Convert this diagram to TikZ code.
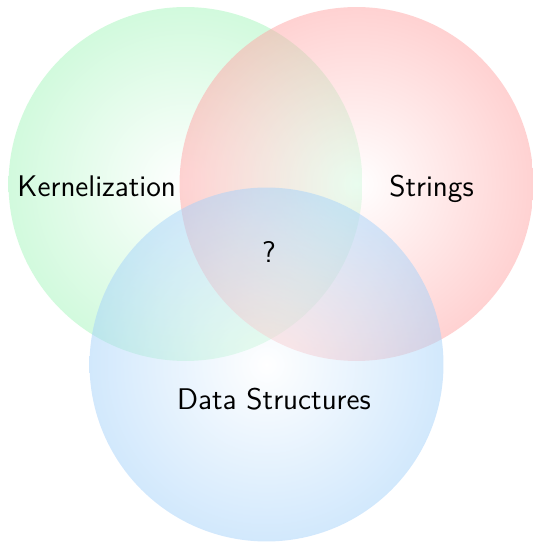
\documentclass[tikz,border=0pt]{standalone}
\definecolor{vgreen}{RGB}{165,245,188}
\definecolor{vred}{RGB}{255,165,165}
\definecolor{vblue}{RGB}{165,210,250}
\begin{document}
\begin{tikzpicture}[x=0.016949cm, y=-0.016949cm,
  setdisc/.style={fill opacity=0.5, inner color=white, outer color=#1},
  settext/.style={font=\sffamily\fontsize{14.4}{17}\selectfont, anchor=base, inner sep=0pt}]
  \useasboundingbox (0,0) rectangle (532,542);
  % the three sets, each a softly shaded disc
  \shade[setdisc=vgreen] (185.5,184) circle[radius=3cm];
  \shade[setdisc=vred] (356.5,184) circle[radius=3cm];
  \shade[setdisc=vblue] (266.5,364.5) circle[radius=3cm];
  % set names and the common part
  \node[settext] (kern) at (96.7,197) {Kernelization};
  \node[settext] (str) at (431.5,197) {Strings};
  \node[settext] (mid) at (269,263) {?};
  \node[settext] (ds) at (274,409.6) {Data Structures};
\end{tikzpicture}
\end{document}
